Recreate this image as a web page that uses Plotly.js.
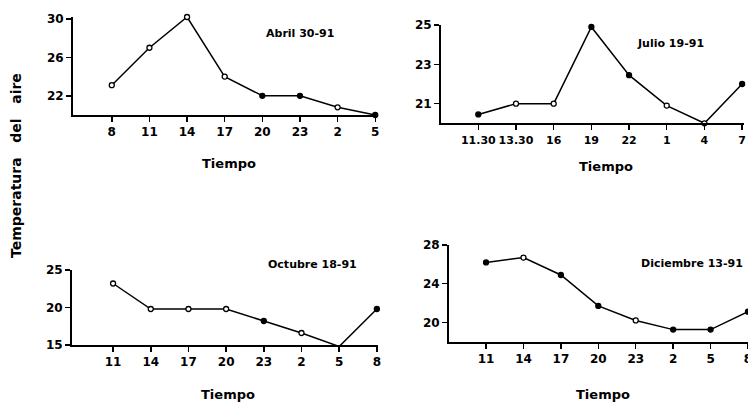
<!DOCTYPE html>
<html>
<head>
<meta charset="utf-8">
<script src="https://cdn.plot.ly/plotly-3.0.1.min.js"></script>
<style>html,body{margin:0;padding:0;background:#fff;}#chart{width:748px;height:402px;}</style>
</head>
<body>
<div id="chart"></div>
<script>
// Abril 30-91
const abrilHoras = ["8","11","14","17","20","23","2","5"];
const abrilTemp = [23.1, 27.0, 30.2, 24.0, 22.0, 22.0, 20.8, 20.0];
// Julio 19-91
const julioHoras = ["11.30","13.30","16","19","22","1","4","7"];
const julioTemp = [20.45, 21.0, 21.0, 24.9, 22.45, 20.9, 20.0, 22.0];
// Octubre 18-91
const octubreHoras = ["11","14","17","20","23","2","5","8"];
const octubreTemp = [23.2, 19.8, 19.8, 19.8, 18.2, 16.6, 14.8, 19.8];
// Diciembre 13-91
const diciembreHoras = ["11","14","17","20","23","2","5","8"];
const diciembreTemp = [26.2, 26.7, 24.9, 21.7, 20.2, 19.25, 19.25, 21.1];

const abrilTicks = [22, 26, 30];
const julioTicks = [21, 23, 25];
const octubreTicks = [15, 20, 25];
const diciembreTicks = [20, 24, 28];

// marker fill style (open / filled)
const fillA = ["white","white","white","white","black","black","white","black"];
const fillJ = ["black","white","white","black","black","white","white","black"];
const fillO = ["white","white","white","white","black","white","white","black"];
const fillD = ["black","white","black","black","white","black","black","black"];

const W = 748, H = 402;
const FAM = "DejaVu Sans, Verdana, sans-serif";
const tickFont = {family: FAM, size: 12, color: "#000", weight: "bold"};

function trace(x, y, fills, xa, ya) {
  return {
    x: x, y: y, xaxis: xa, yaxis: ya, type: "scatter", mode: "lines+markers",
    line: {color: "#000", width: 1.5},
    marker: {symbol: "circle", size: 5, color: fills, line: {color: "#000", width: 1.3}},
    cliponaxis: false, hoverinfo: "skip"
  };
}
function xax(x0, x1, range, fsize) {
  return {
    domain: [x0 / W, x1 / W], type: "category", range: range,
    showline: true, linecolor: "#000", linewidth: 2, showgrid: false, zeroline: false,
    ticks: "outside", ticklen: 5, tickwidth: 1.5, tickcolor: "#000", tickangle: 0,
    tickfont: Object.assign({}, tickFont, {size: fsize || 12}), fixedrange: true
  };
}
function yax(ybot, ytop, range, tv) {
  return {
    domain: [(H - ybot) / H, (H - ytop) / H], range: range,
    showline: true, linecolor: "#000", linewidth: 2, showgrid: false, zeroline: false,
    ticks: "outside", ticklen: 5, tickwidth: 1.5, tickcolor: "#000",
    tickvals: tv, tickfont: tickFont, fixedrange: true
  };
}

const data = [
  trace(abrilHoras, abrilTemp, fillA, "x", "y"),
  trace(julioHoras, julioTemp, fillJ, "x2", "y2"),
  trace(octubreHoras, octubreTemp, fillO, "x3", "y3"),
  trace(diciembreHoras, diciembreTemp, fillD, "x4", "y4")
];

const yA = yax(115, 17, [20, 30.2], abrilTicks); yA.anchor = "x";
const yJ = yax(123.3, 25, [20, 25], julioTicks); yJ.anchor = "x2";
const yO = yax(345, 270, [15, 25], octubreTicks); yO.anchor = "x3";
const yD = yax(341.7, 245, [18, 28], diciembreTicks); yD.anchor = "x4";
const xA = xax(73, 376, [-1.03, 7.02]); xA.anchor = "y";
const xJ = xax(441, 744, [-0.99, 7.05], 11); xJ.anchor = "y2";
const xO = xax(72, 378, [-1.09, 7.03]); xO.anchor = "y3";
const xD = xax(449, 748, [-0.99, 7.0]); xD.anchor = "y4";

function ann(text, x, y, size, extra) {
  return Object.assign({text: text, x: x / W, y: (H - y) / H, xref: "paper", yref: "paper",
    xanchor: "center", yanchor: "middle",
    showarrow: false, font: {family: FAM, size: size, color: "#000", weight: "bold"}}, extra || {});
}
const sp = "\u00a0\u00a0\u00a0";
const layout = {
  width: W, height: H, margin: {l: 0, r: 0, t: 0, b: 0},
  paper_bgcolor: "#fff", plot_bgcolor: "#fff", showlegend: false,
  xaxis: xA, yaxis: yA, xaxis2: xJ, yaxis2: yJ, xaxis3: xO, yaxis3: yO, xaxis4: xD, yaxis4: yD,
  annotations: [
    ann("Abril 30-91", 300, 33, 11),
    ann("Julio 19-91", 670, 44, 11),
    ann("Octubre 18-91", 312, 264, 11),
    ann("Diciembre 13-91", 692, 263, 11),
    ann("Tiempo", 229, 163, 13),
    ann("Tiempo", 606, 166, 13),
    ann("Tiempo", 228, 394, 13),
    ann("Tiempo", 603, 394, 13),
    ann("Temperatura" + sp + "del" + sp + "aire", 16, 166, 14, {textangle: -90})
  ]
};
Plotly.newPlot("chart", data, layout, {displayModeBar: false, staticPlot: true});
</script>
</body>
</html>
